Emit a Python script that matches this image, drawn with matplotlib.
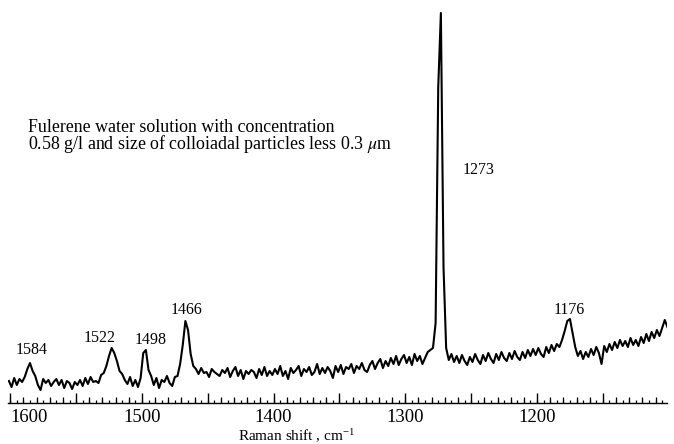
import numpy as np
import matplotlib
matplotlib.use("Agg")
import matplotlib.pyplot as plt
from matplotlib.ticker import FixedLocator, MultipleLocator

plt.rcParams['font.family'] = ['Liberation Serif', 'DejaVu Serif']
plt.rcParams['mathtext.fontset'] = 'stix'

# Raman shift (cm^-1), sampled every 2 cm^-1 from 1601 down to 1101
wavenumber = np.arange(1601, 1100, -2)

# Intensity (arbitrary units)
intensity = [
    22, 16, 25, 18, 24, 21, 26, 34, 40, 32,      # 1601-1583
    27, 18, 13, 24, 20, 23, 17, 21, 24, 18,      # 1581-1563
    23, 15, 22, 20, 14, 21, 18, 23, 17, 25,      # 1561-1543
    19, 26, 21, 22, 20, 28, 30, 37, 47, 55,      # 1541-1523
    50, 42, 32, 29, 23, 19, 26, 17, 23, 16,      # 1521-1503
    25, 50, 53, 33, 27, 18, 25, 15, 23, 21,      # 1501-1483
    27, 20, 17, 26, 27, 39, 58, 82, 73, 49,      # 1481-1463
    37, 34, 29, 35, 30, 31, 26, 34, 31, 29,      # 1461-1443
    27, 33, 30, 35, 26, 32, 36, 27, 33, 24,      # 1441-1423
    32, 29, 33, 31, 25, 34, 28, 36, 27, 32,      # 1421-1403
    28, 34, 29, 37, 27, 32, 24, 35, 30, 33,      # 1401-1383
    37, 27, 34, 31, 36, 28, 31, 39, 29, 35,      # 1381-1363
    30, 36, 32, 25, 37, 31, 38, 29, 36, 34,      # 1361-1343
    39, 30, 37, 34, 40, 33, 31, 38, 42, 34,      # 1341-1323
    40, 44, 35, 42, 37, 45, 39, 47, 38, 44,      # 1321-1303
    48, 40, 46, 38, 49, 42, 47, 39, 45, 51,      # 1301-1283
    53, 55, 80, 316, 390, 136, 55, 43, 49, 41,   # 1281-1263
    47, 40, 48, 42, 38, 46, 41, 49, 43, 39,      # 1261-1243
    48, 42, 50, 44, 40, 49, 43, 51, 45, 42,      # 1241-1223
    50, 44, 52, 46, 43, 51, 45, 53, 47, 54,      # 1221-1203
    48, 55, 49, 46, 56, 50, 58, 52, 59, 56,      # 1201-1183
    63, 72, 82, 84, 70, 56, 47, 52, 44, 51,      # 1181-1163
    46, 54, 48, 56, 50, 39, 57, 51, 59, 53,      # 1161-1143
    61, 55, 63, 57, 62, 56, 65, 58, 63, 57,      # 1141-1123
    66, 60, 69, 62, 71, 65, 73, 67, 75, 83,      # 1121-1103
    76,                                          # 1101
]

peak_labels = ['1584', '1522', '1498', '1466', '1273', '1176']
peak_label_x = [1583.5, 1531.9, 1493.1, 1465.8, 1244.1, 1175.7]
peak_label_y = [53, 65, 63, 93, 233, 93]

tick_values = [1600, 1500, 1400, 1300, 1200, 1100]

fig = plt.figure(figsize=(6.74, 4.44), dpi=100)
ax = fig.add_axes([8 / 674, 41 / 444, 659 / 674, 395 / 444])
ax.plot(wavenumber, intensity, color='black', lw=1.5)
ax.set_xlim(1601.7, 1101.3)
ax.set_ylim(0, 395)

for s in ['top', 'left', 'right']:
    ax.spines[s].set_visible(False)
ax.spines['bottom'].set_linewidth(1.0)
ax.yaxis.set_visible(False)

major = list(range(1600, 1099, -50))
ax.xaxis.set_major_locator(FixedLocator(major))
ax.set_xticklabels([str(v) if v in tick_values else '' for v in major])
ax.xaxis.set_minor_locator(MultipleLocator(10))
ax.tick_params(axis='x', which='major', direction='in', length=7, width=1,
               labelsize=13.5, pad=4)
ax.tick_params(axis='x', which='minor', direction='in', length=4.5, width=0.9)

sec = ax.secondary_xaxis('bottom')
sec.xaxis.set_major_locator(MultipleLocator(5))
sec.tick_params(axis='x', direction='in', length=2.5, width=0.9, labelbottom=False)
sec.spines['bottom'].set_visible(False)

labels = ax.get_xticklabels()
labels[0].set_ha('left')
labels[-1].set_ha('right')

for t, x, y in zip(peak_labels, peak_label_x, peak_label_y):
    ax.text(x, y, t, ha='center', va='center', fontsize=11.5)

fig.text(28 / 674, (444 - 137) / 444,
         'Fulerene water solution with concentration\n'
         r'0.58 g/l and size of colloiadal particles less 0.3 $\mu$m',
         ha='left', va='center', fontsize=12.9, linespacing=0.82)

fig.text(297 / 674, (444 - 436) / 444, r'Raman shift , cm$^{\mathregular{-1}}$',
         ha='center', va='center', fontsize=11)

fig.savefig('out.png', dpi=100)
